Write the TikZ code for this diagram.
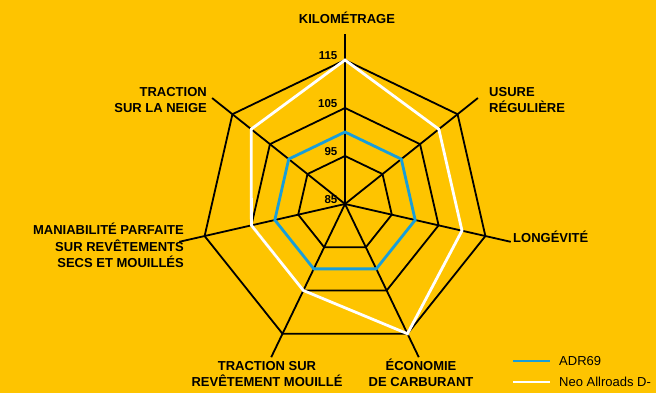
\documentclass[tikz,border=0pt]{standalone}
\usepackage{fontspec}
\setmainfont{Liberation Sans}
\usetikzlibrary{positioning}

\definecolor{chartbg}{RGB}{254,196,0}
\definecolor{adrblue}{RGB}{24,158,218}

\begin{document}
\begin{tikzpicture}[x=1pt,y=1pt,
    ringline/.style={black,line width=1.8pt,line join=miter},
    adrline/.style={adrblue,line width=2.8pt,line join=miter},
    neoline/.style={white,line width=2.8pt,line join=miter},
    crit/.style={font=\bfseries\fontsize{13}{16.5}\selectfont,inner sep=0pt},
    scalenum/.style={font=\bfseries\fontsize{11.5}{13}\selectfont,inner sep=0pt,anchor=base east},
    legendtext/.style={font=\fontsize{13}{15}\selectfont,inner sep=0pt}]

% background
\fill[chartbg] (0,0) rectangle (656,393);
\useasboundingbox (0,0) rectangle (656,393);

\coordinate (c) at (345,189);
\begin{scope}[shift={(c)}]
  % spokes, 85 at the centre and 4.8pt per point
  \foreach \k in {0,...,6}
    \coordinate (ax\k) at ({90-\k*360/7}:170);
  % rings
  \foreach \v in {95,105,115}
    \draw[ringline] (90:{(\v-85)*4.8}) \foreach \k in {1,...,6}{ -- ({90-\k*360/7}:{(\v-85)*4.8}) } -- cycle;
  % data
  \foreach \v [count=\k from 0] in {115,110,110,115,105,105,110}
    \coordinate (neo\k) at ({90-\k*360/7}:{(\v-85)*4.8});
  \foreach \k in {0,...,6}
    \coordinate (adr\k) at ({90-\k*360/7}:{(100-85)*4.8});
  \foreach \v in {85,95,105,115}
    \node[scalenum] (s\v) at (-7.5,{(\v-85)*4.8}) {\v};
\end{scope}

\foreach \k in {0,...,6}
  \draw[ringline] (c) -- (ax\k);

\draw[adrline] (adr0) -- (adr1) -- (adr2) -- (adr3) -- (adr4) -- (adr5) -- (adr6) -- cycle;
\draw[neoline] (neo0) -- (neo1) -- (neo2) -- (neo3) -- (neo4) -- (neo5) -- (neo6) -- cycle;

% axis labels (base = last line)
\node[crit,anchor=base] (kilo) at (347,369) {KILOMÉTRAGE};
\node[crit,anchor=base west,align=left] (usure) at (489,280) {USURE\\RÉGULIÈRE};
\node[crit,anchor=base west] (longevite) at (513,150) {LONGÉVITÉ};
\node[crit,anchor=base,align=center] (economie) at (421,6) {ÉCONOMIE\\DE CARBURANT};
\node[crit,anchor=base,align=center] (mouille) at (267,6) {TRACTION SUR\\REVÊTEMENT MOUILLÉ};
\node[crit,anchor=base east,align=right] (maniab) at (184,125) {MANIABILITÉ PARFAITE\\SUR REVÊTEMENTS\\SECS ET MOUILLÉS};
\node[crit,anchor=base east,align=right] (neige) at (207,280) {TRACTION\\SUR LA NEIGE};

% legend
\coordinate (adrleg) at (513,32);
\coordinate (adrlegE) at (550,32);
\coordinate (neoleg) at (513,11);
\coordinate (neolegE) at (550,11);
\draw[adrline] (adrleg) -- (adrlegE);
\draw[neoline] (neoleg) -- (neolegE);
\node[legendtext,right=9pt of adrlegE] (adrname) {ADR69};
\node[legendtext,right=9pt of neolegE] (neoname) {Neo Allroads D-};
\end{tikzpicture}
\end{document}
